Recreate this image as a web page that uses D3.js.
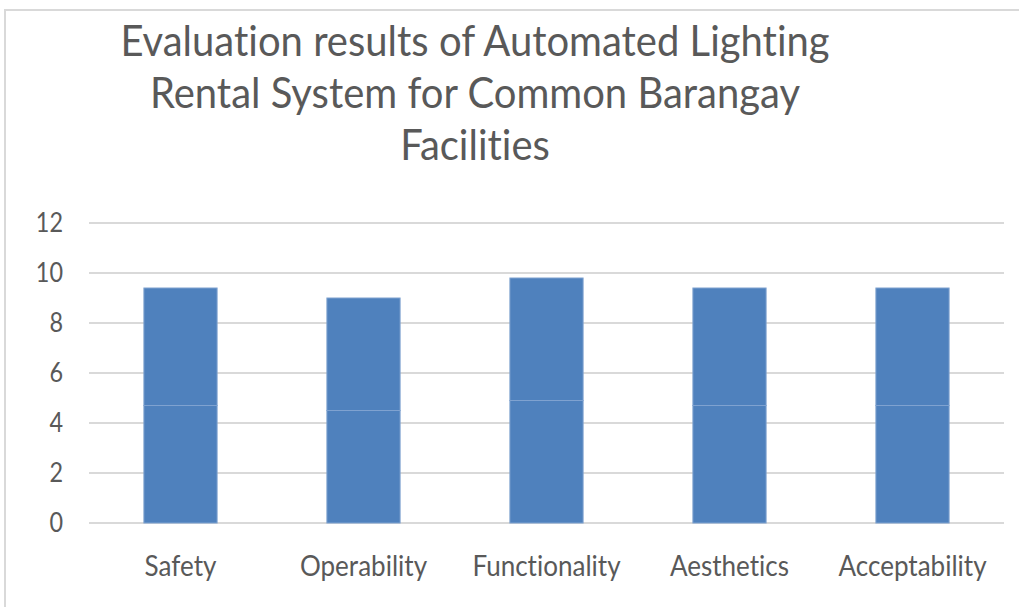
<!DOCTYPE html>
<html>
<head>
<meta charset="utf-8">
<script src="https://cdn.jsdelivr.net/npm/d3@7"></script>
<style>
  html, body { margin: 0; padding: 0; background: #ffffff; }
  svg { display: block; }
  text { font-family: Lato, "Open Sans", sans-serif; fill: #595959; font-variant-ligatures: none; }
</style>
</head>
<body>
<svg id="chart" width="1019" height="607"></svg>
<script>
// ---- data ----
const categories = ["Safety", "Operability", "Functionality", "Aesthetics", "Acceptability"];
const series1 = [4.7, 4.5, 4.9, 4.7, 4.7];
const series2 = [4.7, 4.5, 4.9, 4.7, 4.7];
const yTicks = [0, 2, 4, 6, 8, 10, 12];
const titleLines = [
  "Evaluation results of Automated Lighting",
  "Rental System for Common Barangay",
  "Facilities"
];

// ---- layout ----
const W = 1019, H = 607;
const plot = { left: 89, right: 1004, top: 223, bottom: 523 };

const svg = d3.select("#chart");
svg.append("rect").attr("x", 0).attr("y", 0).attr("width", W).attr("height", H).attr("fill", "#fff");
// chart area border (extends past the bottom/right edge of the picture)
svg.append("rect")
  .attr("x", 5).attr("y", 10).attr("width", W + 20).attr("height", H + 20)
  .attr("fill", "none").attr("stroke", "#d9d9d9").attr("stroke-width", 2);

function squash(factor) {
  return sel => sel.each(function () {
    const len = this.getComputedTextLength();
    d3.select(this).attr("textLength", len * factor).attr("lengthAdjust", "spacingAndGlyphs");
  });
}

const x = d3.scaleBand().domain(categories).range([plot.left, plot.right])
  .paddingInner(0.6).paddingOuter(0.3);
const y = d3.scaleLinear().domain([0, 12]).range([plot.bottom, plot.top]);

// gridlines
svg.append("g").selectAll("line").data(yTicks).join("line")
  .attr("x1", plot.left).attr("x2", plot.right)
  .attr("y1", d => y(d)).attr("y2", d => y(d))
  .attr("stroke", "#d9d9d9").attr("stroke-width", 2);

// y axis labels
const yAxis = d3.axisLeft(y).tickValues(yTicks).tickSize(0).tickPadding(26);
const gy = svg.append("g").attr("transform", `translate(${plot.left},0)`).call(yAxis);
gy.select(".domain").remove();
gy.selectAll("text").attr("font-size", 26).style("font-family", "Lato, sans-serif")
  .attr("fill", "#595959").call(squash(0.9));

// stacked bars
const table = categories.map((c, i) => ({ cat: c, s1: series1[i], s2: series2[i] }));
const stacked = d3.stack().keys(["s1", "s2"])(table);
svg.append("g").selectAll("g").data(stacked).join("g")
  .selectAll("rect").data(d => d).join("rect")
  .attr("x", d => x(d.data.cat))
  .attr("width", x.bandwidth())
  .attr("y", d => y(d[1]))
  .attr("height", d => y(d[0]) - y(d[1]))
  .attr("fill", "#4f81bd")
  .attr("stroke", "#7fa2d0").attr("stroke-width", 1);

// x axis labels
const xAxis = d3.axisBottom(x).tickSize(0).tickPadding(33);
const gx = svg.append("g").attr("transform", `translate(0,${plot.bottom})`).call(xAxis);
gx.select(".domain").remove();
gx.selectAll("text").attr("font-size", 28).style("font-family", "Lato, sans-serif")
  .attr("fill", "#595959").call(squash(0.93));

// title
svg.append("g").selectAll("text").data(titleLines).join("text")
  .attr("x", 475).attr("y", (d, i) => 56 + i * 52)
  .attr("text-anchor", "middle")
  .attr("font-size", 43).attr("font-weight", 400)
  .text(d => d)
  .call(squash(0.93));
</script>
</body>
</html>
